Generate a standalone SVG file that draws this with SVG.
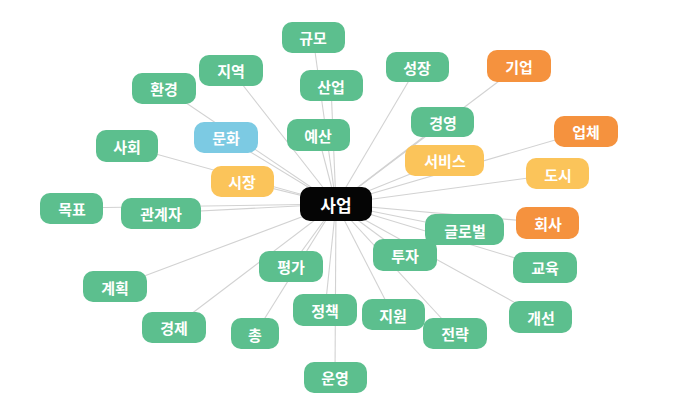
<svg xmlns="http://www.w3.org/2000/svg" width="697" height="404" viewBox="0 0 697 404">
<style>
.e line{stroke:#d2d2d2;stroke-width:1.1}
.n rect{rx:10;ry:10}
.g rect{fill:#5cbf8e}
.o rect{fill:#f5923e}
.y rect{fill:#fbc45a}
.b rect{fill:#7ccae3}
.c rect{fill:#050505}
text{font-family:"Noto Sans CJK KR","Noto Sans",sans-serif;font-weight:bold;font-size:15px;fill:#fff;text-anchor:middle;dominant-baseline:central}
.c text{font-size:17px}
</style>
<rect width="697" height="404" fill="#fff"/>
<g class="e" id="connectors">
<line x1="336" y1="204" x2="313" y2="37"/>
<line x1="336" y1="204" x2="231" y2="70"/>
<line x1="336" y1="204" x2="164" y2="88"/>
<line x1="336" y1="204" x2="331" y2="86"/>
<line x1="336" y1="204" x2="226" y2="137"/>
<line x1="336" y1="204" x2="318" y2="135"/>
<line x1="336" y1="204" x2="127" y2="146"/>
<line x1="336" y1="204" x2="242" y2="181"/>
<line x1="336" y1="204" x2="72" y2="208"/>
<line x1="336" y1="204" x2="161" y2="213"/>
<line x1="336" y1="204" x2="115" y2="287"/>
<line x1="336" y1="204" x2="291" y2="266"/>
<line x1="336" y1="204" x2="325" y2="310"/>
<line x1="336" y1="204" x2="174" y2="327"/>
<line x1="336" y1="204" x2="255" y2="334"/>
<line x1="336" y1="204" x2="335" y2="377"/>
<line x1="336" y1="204" x2="417" y2="67"/>
<line x1="336" y1="204" x2="519" y2="66"/>
<line x1="336" y1="204" x2="443" y2="122"/>
<line x1="336" y1="204" x2="586" y2="131"/>
<line x1="336" y1="204" x2="445" y2="160"/>
<line x1="336" y1="204" x2="558" y2="174"/>
<line x1="336" y1="204" x2="548" y2="223"/>
<line x1="336" y1="204" x2="465" y2="230"/>
<line x1="336" y1="204" x2="405" y2="255"/>
<line x1="336" y1="204" x2="545" y2="267"/>
<line x1="336" y1="204" x2="393" y2="315"/>
<line x1="336" y1="204" x2="455" y2="333"/>
<line x1="336" y1="204" x2="541" y2="317"/>
</g>
<g id="n-gyumo" class="n g"><rect x="282" y="22" width="63" height="31"/><text x="313" y="37">규모</text></g>
<g id="n-jiyeok" class="n g"><rect x="199" y="55" width="64" height="31"/><text x="231" y="70">지역</text></g>
<g id="n-hwangyeong" class="n g"><rect x="132" y="73" width="64" height="31"/><text x="164" y="88">환경</text></g>
<g id="n-saneop" class="n g"><rect x="300" y="70" width="63" height="31"/><text x="331" y="86">산업</text></g>
<g id="n-munhwa" class="n b"><rect x="194" y="122" width="64" height="31"/><text x="226" y="137">문화</text></g>
<g id="n-yesan" class="n g"><rect x="287" y="119" width="63" height="32"/><text x="318" y="135">예산</text></g>
<g id="n-sahoe" class="n g"><rect x="96" y="130" width="62" height="32"/><text x="127" y="146">사회</text></g>
<g id="n-sijang" class="n y"><rect x="211" y="166" width="63" height="31"/><text x="242" y="181">시장</text></g>
<g id="n-mokpyo" class="n g"><rect x="40" y="193" width="63" height="31"/><text x="72" y="208">목표</text></g>
<g id="n-gwangyeja" class="n g"><rect x="121" y="198" width="80" height="31"/><text x="161" y="213">관계자</text></g>
<g id="n-gyehoek" class="n g"><rect x="83" y="271" width="64" height="31"/><text x="115" y="287">계획</text></g>
<g id="n-pyeongga" class="n g"><rect x="259" y="251" width="64" height="31"/><text x="291" y="266">평가</text></g>
<g id="n-jeongchaek" class="n g"><rect x="293" y="294" width="64" height="32"/><text x="325" y="310">정책</text></g>
<g id="n-gyeongje" class="n g"><rect x="142" y="312" width="64" height="31"/><text x="174" y="327">경제</text></g>
<g id="n-chong" class="n g"><rect x="231" y="318" width="48" height="31"/><text x="255" y="334">총</text></g>
<g id="n-unyeong" class="n g"><rect x="304" y="362" width="63" height="31"/><text x="335" y="377">운영</text></g>
<g id="n-seongjang" class="n g"><rect x="386" y="52" width="63" height="30"/><text x="417" y="67">성장</text></g>
<g id="n-gieop" class="n o"><rect x="487" y="50" width="64" height="32"/><text x="519" y="66">기업</text></g>
<g id="n-gyeongyeong" class="n g"><rect x="411" y="107" width="63" height="30"/><text x="443" y="122">경영</text></g>
<g id="n-eopche" class="n o"><rect x="554" y="116" width="64" height="31"/><text x="586" y="131">업체</text></g>
<g id="n-seobiseu" class="n y"><rect x="405" y="145" width="79" height="31"/><text x="445" y="160">서비스</text></g>
<g id="n-dosi" class="n y"><rect x="526" y="158" width="63" height="31"/><text x="558" y="174">도시</text></g>
<g id="n-hoesa" class="n o"><rect x="516" y="207" width="63" height="32"/><text x="548" y="223">회사</text></g>
<g id="n-geullobeol" class="n g"><rect x="425" y="214" width="79" height="31"/><text x="465" y="230">글로벌</text></g>
<g id="n-tuja" class="n g"><rect x="373" y="239" width="64" height="32"/><text x="405" y="255">투자</text></g>
<g id="n-gyoyuk" class="n g"><rect x="513" y="252" width="64" height="31"/><text x="545" y="267">교육</text></g>
<g id="n-jiwon" class="n g"><rect x="362" y="299" width="63" height="31"/><text x="393" y="315">지원</text></g>
<g id="n-jeollyak" class="n g"><rect x="423" y="318" width="64" height="31"/><text x="455" y="333">전략</text></g>
<g id="n-gaeseon" class="n g"><rect x="509" y="301" width="63" height="32"/><text x="541" y="317">개선</text></g>
<g id="n-saeop" class="n c"><rect x="300" y="187" width="72" height="34"/><text x="336" y="204">사업</text></g>
</svg>
